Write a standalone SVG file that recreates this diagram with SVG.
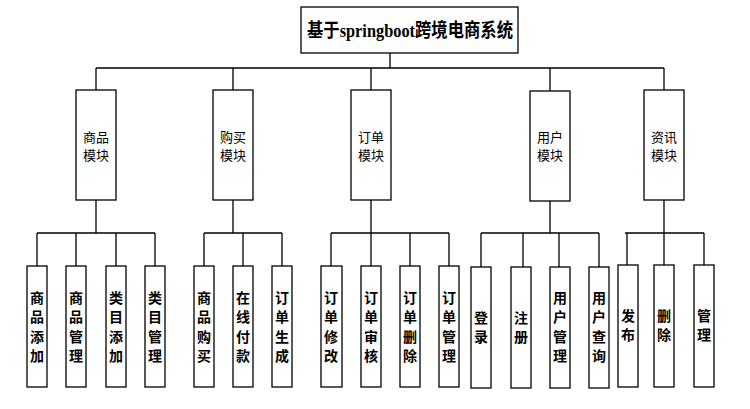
<svg xmlns="http://www.w3.org/2000/svg" width="750" height="409" viewBox="0 0 750 409">
<style>
.box{fill:#fff;stroke:#000;stroke-width:1.3}
.ln{stroke:#000;stroke-width:1.3;fill:none}
.mod{font-family:"Noto Sans CJK SC","Noto Sans",sans-serif;font-size:13px;fill:#000;text-anchor:middle}
.leaf{font-family:"Noto Sans CJK SC","Noto Sans",sans-serif;font-size:14px;font-weight:bold;fill:#000;text-anchor:middle}
.title{font-family:"Liberation Serif","Noto Sans CJK SC",serif;font-size:19px;font-weight:bold;fill:#000}
</style>
<rect width="750" height="409" fill="#fff"/>
<g id="connectors">
<path class="ln" d="M390,53V68M96,68H664M96,68V90M233,68V90M371,68V90M550,68V91M664,68V90"/>
<path class="ln" d="M96,200V233M37,233H155M37,233V266M76,233V266M116,233V266M155,233V266"/>
<path class="ln" d="M233,200V233M204,233H282M204,233V266M243,233V266M282,233V266"/>
<path class="ln" d="M371,200V233M331,233H449M331,233V266M371,233V266M410,233V266M449,233V266"/>
<path class="ln" d="M550,201V233M481,233H599M481,233V267M523,233V267M559,233V267M599,233V267"/>
<path class="ln" d="M664,200V233M625,233H704M627,233V265M664,233V265M704,233V265"/>
</g>
<g id="root">
<rect class="box" x="301" y="7" width="217" height="46"/>
<text class="title" x="307" y="37" textLength="206" lengthAdjust="spacingAndGlyphs">基于springboot跨境电商系统</text>
</g>
<g id="m1"><rect class="box" x="76" y="90" width="40" height="110"/><text class="mod" x="96" y="142">商品</text><text class="mod" x="96" y="160">模块</text></g>
<g id="m2"><rect class="box" x="213" y="90" width="40" height="110"/><text class="mod" x="233" y="142">购买</text><text class="mod" x="233" y="160">模块</text></g>
<g id="m3"><rect class="box" x="351" y="90" width="40" height="110"/><text class="mod" x="371" y="142">订单</text><text class="mod" x="371" y="160">模块</text></g>
<g id="m4"><rect class="box" x="530" y="91" width="40" height="110"/><text class="mod" x="550" y="142">用户</text><text class="mod" x="550" y="160">模块</text></g>
<g id="m5"><rect class="box" x="644" y="90" width="40" height="110"/><text class="mod" x="664" y="142">资讯</text><text class="mod" x="664" y="160">模块</text></g>

<g id="l1"><rect class="box" x="27" y="266" width="20" height="121"/><text class="leaf" x="37"><tspan x="37" y="303">商</tspan><tspan x="37" y="322">品</tspan><tspan x="37" y="342">添</tspan><tspan x="37" y="361">加</tspan></text></g>
<g id="l2"><rect class="box" x="66" y="266" width="20" height="121"/><text class="leaf" x="76"><tspan x="76" y="303">商</tspan><tspan x="76" y="322">品</tspan><tspan x="76" y="342">管</tspan><tspan x="76" y="361">理</tspan></text></g>
<g id="l3"><rect class="box" x="106" y="266" width="20" height="121"/><text class="leaf" x="116"><tspan x="116" y="303">类</tspan><tspan x="116" y="322">目</tspan><tspan x="116" y="342">添</tspan><tspan x="116" y="361">加</tspan></text></g>
<g id="l4"><rect class="box" x="145" y="266" width="20" height="121"/><text class="leaf" x="155"><tspan x="155" y="303">类</tspan><tspan x="155" y="322">目</tspan><tspan x="155" y="342">管</tspan><tspan x="155" y="361">理</tspan></text></g>

<g id="l5"><rect class="box" x="194" y="266" width="20" height="121"/><text class="leaf" x="204"><tspan x="204" y="303">商</tspan><tspan x="204" y="322">品</tspan><tspan x="204" y="342">购</tspan><tspan x="204" y="361">买</tspan></text></g>
<g id="l6"><rect class="box" x="233" y="266" width="20" height="121"/><text class="leaf" x="243"><tspan x="243" y="303">在</tspan><tspan x="243" y="322">线</tspan><tspan x="243" y="342">付</tspan><tspan x="243" y="361">款</tspan></text></g>
<g id="l7"><rect class="box" x="272" y="266" width="20" height="121"/><text class="leaf" x="282"><tspan x="282" y="303">订</tspan><tspan x="282" y="322">单</tspan><tspan x="282" y="342">生</tspan><tspan x="282" y="361">成</tspan></text></g>

<g id="l8"><rect class="box" x="321" y="266" width="21" height="121"/><text class="leaf" x="331"><tspan x="331" y="303">订</tspan><tspan x="331" y="322">单</tspan><tspan x="331" y="342">修</tspan><tspan x="331" y="361">改</tspan></text></g>
<g id="l9"><rect class="box" x="361" y="266" width="20" height="121"/><text class="leaf" x="371"><tspan x="371" y="303">订</tspan><tspan x="371" y="322">单</tspan><tspan x="371" y="342">审</tspan><tspan x="371" y="361">核</tspan></text></g>
<g id="l10"><rect class="box" x="400" y="266" width="20" height="121"/><text class="leaf" x="410"><tspan x="410" y="303">订</tspan><tspan x="410" y="322">单</tspan><tspan x="410" y="342">删</tspan><tspan x="410" y="361">除</tspan></text></g>
<g id="l11"><rect class="box" x="439" y="266" width="20" height="121"/><text class="leaf" x="449"><tspan x="449" y="303">订</tspan><tspan x="449" y="322">单</tspan><tspan x="449" y="342">管</tspan><tspan x="449" y="361">理</tspan></text></g>

<g id="l12"><rect class="box" x="471" y="267" width="20" height="121"/><text class="leaf" x="481"><tspan x="481" y="323">登</tspan><tspan x="481" y="342">录</tspan></text></g>
<g id="l13"><rect class="box" x="511" y="267" width="20" height="121"/><text class="leaf" x="521"><tspan x="521" y="323">注</tspan><tspan x="521" y="342">册</tspan></text></g>
<g id="l14"><rect class="box" x="550" y="267" width="20" height="121"/><text class="leaf" x="560"><tspan x="560" y="303">用</tspan><tspan x="560" y="322">户</tspan><tspan x="560" y="342">管</tspan><tspan x="560" y="361">理</tspan></text></g>
<g id="l15"><rect class="box" x="589" y="267" width="20" height="121"/><text class="leaf" x="599"><tspan x="599" y="303">用</tspan><tspan x="599" y="322">户</tspan><tspan x="599" y="342">查</tspan><tspan x="599" y="361">询</tspan></text></g>

<g id="l16"><rect class="box" x="618" y="265" width="20" height="122"/><text class="leaf" x="628"><tspan x="628" y="321">发</tspan><tspan x="628" y="340">布</tspan></text></g>
<g id="l17"><rect class="box" x="654" y="265" width="20" height="122"/><text class="leaf" x="664"><tspan x="664" y="321">删</tspan><tspan x="664" y="340">除</tspan></text></g>
<g id="l18"><rect class="box" x="694" y="265" width="20" height="122"/><text class="leaf" x="704"><tspan x="704" y="321">管</tspan><tspan x="704" y="340">理</tspan></text></g>
</svg>
